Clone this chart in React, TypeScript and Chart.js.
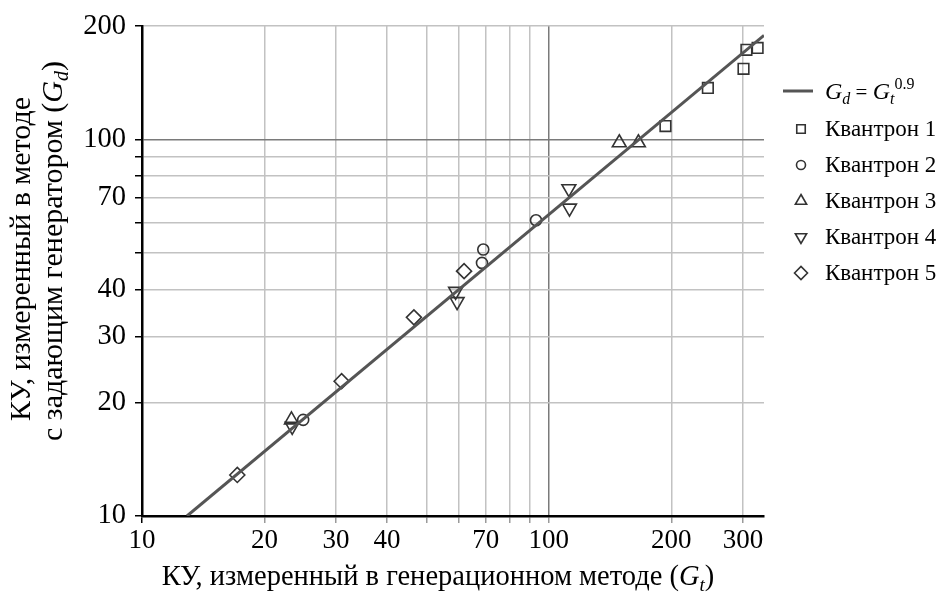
import React, { useEffect, useRef } from "react";
import { Chart, registerables } from "chart.js";

Chart.register(...registerables);

// ---- data ----
const lineX = [12.9, 338];
const lineY = [10, 189];

const kv1X = [306, 326, 301, 246, 193.5];
const kv1Y = [173, 175, 154, 137, 108.5];

const kv2X = [93, 69, 68.5, 24.9];
const kv2Y = [61, 51, 47, 18.0];

const kv3X = [149, 166, 23.3];
const kv3Y = [98, 98, 18.0];

const kv4X = [112, 112.4, 59, 59.5, 23.4];
const kv4Y = [74, 65.7, 39.5, 37.1, 17.3];

const kv5X = [61.9, 46.6, 30.95, 17.15];
const kv5Y = [44.7, 33.7, 22.8, 12.85];

const seriesNames = ["Квантрон 1", "Квантрон 2", "Квантрон 3", "Квантрон 4", "Квантрон 5"];

const xTickValues = [10, 20, 30, 40, 50, 60, 70, 80, 90, 100, 200, 300];
const xLabelValues = [10, 20, 30, 40, 70, 100, 200, 300];
const yTickValues = [10, 20, 30, 40, 50, 60, 70, 80, 90, 100, 200];
const yLabelValues = [10, 20, 30, 40, 70, 100, 200];

const xTitleMain = "КУ, измеренный в генерационном методе (";
const yTitleLine1 = "КУ, измеренный в методе";
const yTitleLine2 = "с задающим генератором (";

const FONT = "'Liberation Serif', 'Times New Roman', serif";
const MARK = "#333333";

const pts = (xs: number[], ys: number[]) => xs.map((x, i) => ({ x, y: ys[i] }));

type Run = { text: string; italic?: boolean; size: number; dy?: number };

function drawRuns(ctx: CanvasRenderingContext2D, runs: Run[], x: number, y: number, align: "left" | "center") {
  const widths = runs.map((r) => {
    ctx.font = `${r.italic ? "italic " : ""}${r.size}px ${FONT}`;
    return ctx.measureText(r.text).width;
  });
  const total = widths.reduce((a, b) => a + b, 0);
  let cx = align === "center" ? x - total / 2 : x;
  ctx.textAlign = "left";
  ctx.textBaseline = "alphabetic";
  runs.forEach((r, i) => {
    ctx.font = `${r.italic ? "italic " : ""}${r.size}px ${FONT}`;
    ctx.fillText(r.text, cx, y + (r.dy || 0));
    cx += widths[i];
  });
}

function drawMarker(ctx: CanvasRenderingContext2D, style: string, rot: number, r: number, x: number, y: number) {
  ctx.beginPath();
  if (style === "rect") {
    const s = Math.SQRT1_2 * r;
    ctx.rect(x - s, y - s, 2 * s, 2 * s);
  } else if (style === "circle") {
    ctx.arc(x, y, r, 0, Math.PI * 2);
  } else if (style === "triangle") {
    let rad = (rot * Math.PI) / 180;
    for (let k = 0; k < 3; k++) {
      const px = x + Math.sin(rad) * r;
      const py = y - Math.cos(rad) * r;
      if (k === 0) ctx.moveTo(px, py);
      else ctx.lineTo(px, py);
      rad += (2 * Math.PI) / 3;
    }
    ctx.closePath();
  } else {
    ctx.moveTo(x - r, y);
    ctx.lineTo(x, y - r);
    ctx.lineTo(x + r, y);
    ctx.lineTo(x, y + r);
    ctx.closePath();
  }
  ctx.stroke();
}

const overlayPlugin = {
  id: "overlay",
  afterDraw(chart: any) {
    const ctx: CanvasRenderingContext2D = chart.ctx;
    ctx.save();
    ctx.fillStyle = "#000";

    // X axis title
    drawRuns(
      ctx,
      [
        { text: xTitleMain, size: 28.5 },
        { text: "G", italic: true, size: 28.5 },
        { text: "t", italic: true, size: 19, dy: 6 },
        { text: ")", size: 28.5 },
      ],
      438,
      585,
      "center"
    );

    // Y axis title (rotated)
    ctx.save();
    ctx.translate(30, 259);
    ctx.rotate(-Math.PI / 2);
    drawRuns(ctx, [{ text: yTitleLine1, size: 30 }], 0, 0, "center");
    ctx.restore();
    ctx.save();
    ctx.translate(62, 251);
    ctx.rotate(-Math.PI / 2);
    drawRuns(
      ctx,
      [
        { text: yTitleLine2, size: 30 },
        { text: "G", italic: true, size: 30 },
        { text: "d", italic: true, size: 20, dy: 6 },
        { text: ")", size: 30 },
      ],
      0,
      0,
      "center"
    );
    ctx.restore();

    // Legend
    const lx = 801;
    const tx = 825;
    ctx.strokeStyle = "#555";
    ctx.lineWidth = 3;
    ctx.beginPath();
    ctx.moveTo(783, 91);
    ctx.lineTo(813, 91);
    ctx.stroke();
    ctx.fillStyle = "#000";
    drawRuns(
      ctx,
      [
        { text: "G", italic: true, size: 24 },
        { text: "d", italic: true, size: 16, dy: 5 },
        { text: " = ", size: 21 },
        { text: "G", italic: true, size: 24 },
        { text: "t", italic: true, size: 16, dy: 5 },
        { text: "0.9", size: 16, dy: -10 },
      ],
      tx,
      99,
      "left"
    );

    const styles = ["rect", "circle", "triangle", "triangle", "rectRot"];
    const rots = [0, 0, 0, 180, 0];
    const radii = [6, 4.5, 6.5, 6.5, 6.5];
    const rowY = [130, 166, 202, 238, 274];
    seriesNames.forEach((name, i) => {
      ctx.strokeStyle = MARK;
      ctx.lineWidth = 1.6;
      drawMarker(ctx, styles[i], rots[i], radii[i], lx, rowY[i] - 1);
      ctx.fillStyle = "#000";
      ctx.font = `23px ${FONT}`;
      ctx.textAlign = "left";
      ctx.textBaseline = "middle";
      ctx.fillText(name, tx, rowY[i]);
    });
    ctx.restore();
  },
};

export default function App() {
  const ref = useRef<HTMLCanvasElement | null>(null);

  useEffect(() => {
    if (!ref.current) return;
    const markerBase = {
      type: "scatter" as const,
      showLine: false,
      borderColor: MARK,
      backgroundColor: "rgba(0,0,0,0)",
      pointBorderWidth: 1.6,
      borderWidth: 1.6,
    };
    const chart = new Chart(ref.current, {
      type: "scatter",
      data: {
        datasets: [
          {
            type: "line" as any,
            label: "Gd = Gt^0.9",
            data: pts(lineX, lineY),
            borderColor: "#555555",
            borderWidth: 3,
            pointRadius: 0,
            showLine: true,
            fill: false,
          } as any,
          { ...markerBase, label: seriesNames[0], data: pts(kv1X, kv1Y), pointStyle: "rect", pointRadius: 7.5 },
          { ...markerBase, label: seriesNames[1], data: pts(kv2X, kv2Y), pointStyle: "circle", pointRadius: 5.5 },
          { ...markerBase, label: seriesNames[2], data: pts(kv3X, kv3Y), pointStyle: "triangle", pointRadius: 8 },
          { ...markerBase, label: seriesNames[3], data: pts(kv4X, kv4Y), pointStyle: "triangle", rotation: 180, pointRadius: 8 } as any,
          { ...markerBase, label: seriesNames[4], data: pts(kv5X, kv5Y), pointStyle: "rectRot", pointRadius: 7.5 },
        ],
      },
      options: {
        animation: false,
        responsive: false,
        devicePixelRatio: 1,
        layout: { padding: { left: 0, top: 18, right: 177, bottom: 0 } },
        plugins: { legend: { display: false }, tooltip: { enabled: false } },
        scales: {
          x: {
            type: "logarithmic",
            min: 10,
            max: 338,
            afterBuildTicks: (s: any) => {
              s.ticks = xTickValues.map((v) => ({ value: v }));
            },
            afterFit: (s: any) => {
              s.height = 80;
            },
            ticks: {
              autoSkip: false,
              maxRotation: 0,
              color: "#000",
              font: { family: FONT, size: 27 },
              padding: 2,
              callback: (v: any) => (xLabelValues.includes(Number(v)) ? String(v) : ""),
            },
            grid: {
              color: (c: any) => (c.tick && c.tick.value === 100 ? "#7a7a7a" : "#c2c2c2"),
              lineWidth: 1.5,
              tickLength: 7,
              tickColor: (c: any) => (c.tick && c.tick.value === 10 ? "#000" : "#9a9a9a"),
            },
            border: { color: "#000", width: 2.5 },
          } as any,
          y: {
            type: "logarithmic",
            min: 10,
            max: 200,
            afterBuildTicks: (s: any) => {
              s.ticks = yTickValues.map((v) => ({ value: v }));
            },
            afterFit: (s: any) => {
              s.width = 142;
            },
            ticks: {
              autoSkip: false,
              color: "#000",
              font: { family: FONT, size: 28.5 },
              padding: 9,
              callback: (v: any) => (yLabelValues.includes(Number(v)) ? String(v) : ""),
            },
            grid: {
              color: (c: any) => (c.tick && c.tick.value === 100 ? "#7a7a7a" : "#c2c2c2"),
              lineWidth: 1.5,
              tickLength: 7,
              tickColor: "#000",
            },
            border: { color: "#000", width: 2.5 },
          } as any,
        },
      },
      plugins: [overlayPlugin],
    });
    return () => chart.destroy();
  }, []);

  return (
    <div style={{ position: "absolute", left: 0, top: 0, width: 941, height: 596, background: "#fff" }}>
      <canvas ref={ref} width={941} height={596} style={{ display: "block" }} />
    </div>
  );
}
